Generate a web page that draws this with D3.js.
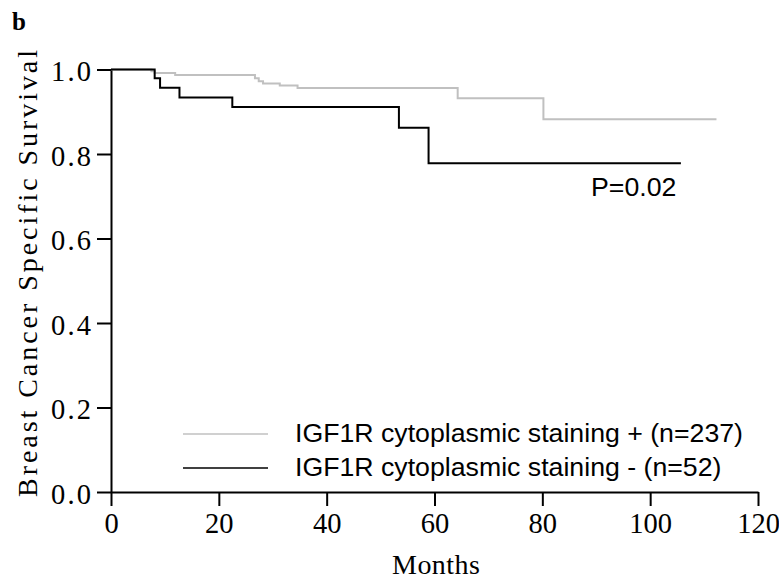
<!DOCTYPE html>
<html>
<head>
<meta charset="utf-8">
<script src="https://cdn.jsdelivr.net/npm/d3@7"></script>
<style>
  html, body { margin: 0; padding: 0; background: #fff; }
  svg { display: block; }
</style>
</head>
<body>
<svg id="chart" width="779" height="580"></svg>
<script>
// ---- data ----
const posTimes = [0, 7.5, 8.1, 11.9, 26.7, 27.4, 28.2, 31.3, 34.6, 64.3, 80.2, 112.3];
const posSurv  = [1.0, 0.996, 0.992, 0.987, 0.979, 0.972, 0.967, 0.962, 0.956, 0.932, 0.882, 0.882];
const negTimes = [0, 8.1, 9.1, 12.7, 22.5, 53.4, 58.9, 105.7];
const negSurv  = [1.0, 0.979, 0.957, 0.934, 0.911, 0.862, 0.778, 0.778];
const xTicks = [0, 20, 40, 60, 80, 100, 120];
const yTicks = [0.0, 0.2, 0.4, 0.6, 0.8, 1.0];
const seriesNames = ["IGF1R cytoplasmic staining + (n=237)", "IGF1R cytoplasmic staining - (n=52)"];
const seriesColors = ["#c0c0c0", "#000000"];
const pValueText = "P=0.02";
const panelLabel = "b";
const xTitle = "Months";
const yTitle = "Breast Cancer Specific Survival";

// ---- drawing ----
const svg = d3.select("#chart");
const x = d3.scaleLinear().domain([0, 120]).range([111, 758]);
const y = d3.scaleLinear().domain([0, 1]).range([492, 69.5]);

const serif = "'Liberation Serif', 'Times New Roman', serif";
const sans = "'Liberation Sans', Arial, sans-serif";

// x axis
const gx = svg.append("g")
  .attr("transform", `translate(0,${y(0)})`)
  .call(d3.axisBottom(x).tickValues(xTicks).tickSize(14).tickSizeOuter(0).tickFormat(d3.format("d")));
gx.select(".domain").attr("stroke", "#000").attr("stroke-width", 2);
gx.selectAll(".tick line").attr("stroke", "#000").attr("stroke-width", 2);
gx.selectAll(".tick text")
  .attr("y", 41).attr("dy", 0)
  .attr("fill", "#000")
  .style("font-family", serif).style("font-size", "28.5px");

// y axis
const gy = svg.append("g")
  .attr("transform", `translate(${x(0)},0)`)
  .call(d3.axisLeft(y).tickValues(yTicks).tickSize(14).tickSizeOuter(0).tickFormat(d3.format(".1f")));
gy.select(".domain").attr("stroke", "#000").attr("stroke-width", 2);
gy.selectAll(".tick line").attr("stroke", "#000").attr("stroke-width", 2);
gy.selectAll(".tick text")
  .attr("x", -20).attr("dy", 0).attr("y", 11)
  .attr("fill", "#000")
  .attr("textLength", 40).attr("lengthAdjust", "spacing")
  .style("font-family", serif).style("font-size", "28.5px");

// curves
const line = d3.line().curve(d3.curveStepAfter).x(d => x(d[0])).y(d => y(d[1]));
const posData = posTimes.map((t, i) => [t, posSurv[i]]);
const negData = negTimes.map((t, i) => [t, negSurv[i]]);
svg.append("path").datum(posData).attr("d", line)
  .attr("fill", "none").attr("stroke", seriesColors[0]).attr("stroke-width", 2);
svg.append("path").datum(negData).attr("d", line)
  .attr("fill", "none").attr("stroke", seriesColors[1]).attr("stroke-width", 2);

// legend
const legendY = [434, 468];
seriesNames.forEach((name, i) => {
  svg.append("line")
    .attr("x1", 183).attr("x2", 268)
    .attr("y1", legendY[i]).attr("y2", legendY[i])
    .attr("stroke", seriesColors[i]).attr("stroke-width", 1.5);
  svg.append("text")
    .attr("x", 295).attr("y", legendY[i] + 8)
    .attr("fill", "#000")
    .style("font-family", sans).style("font-size", "26.7px")
    .text(name);
});

// p-value
svg.append("text")
  .attr("x", 591).attr("y", 196)
  .attr("fill", "#000")
  .style("font-family", sans).style("font-size", "26.7px")
  .text(pValueText);

// axis titles
svg.append("text")
  .attr("x", 436).attr("y", 574)
  .attr("text-anchor", "middle")
  .attr("textLength", 88).attr("lengthAdjust", "spacing")
  .attr("fill", "#000")
  .style("font-family", serif).style("font-size", "28px")
  .text(xTitle);

svg.append("text")
  .attr("transform", "rotate(-90)")
  .attr("x", -273.5).attr("y", 37)
  .attr("text-anchor", "middle")
  .attr("textLength", 447).attr("lengthAdjust", "spacing")
  .attr("fill", "#000")
  .style("font-family", serif).style("font-size", "28px")
  .text(yTitle);

// panel label
svg.append("text")
  .attr("x", 12).attr("y", 30)
  .attr("fill", "#000")
  .style("font-family", serif).style("font-size", "25px").style("font-weight", "bold")
  .text(panelLabel);
</script>
</body>
</html>
